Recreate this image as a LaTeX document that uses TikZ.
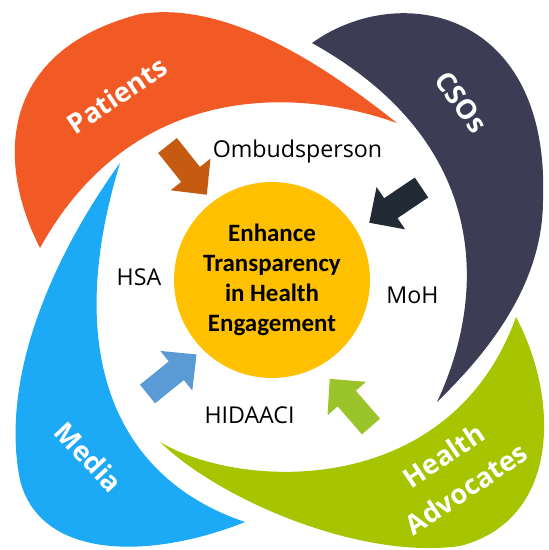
\documentclass[tikz,border=0pt]{standalone}
\usepackage{fontspec}
\setmainfont{Open Sans}
\newfontfamily\goalfont{Carlito}
\usepackage{tikz}

\definecolor{patientsorange}{HTML}{F15A24}
\definecolor{csonavy}{HTML}{3C3C54}
\definecolor{advocategreen}{HTML}{A6C400}
\definecolor{mediablue}{HTML}{1CA9F6}
\definecolor{goalyellow}{HTML}{FFC000}
\definecolor{arrowbrown}{HTML}{C55A11}
\definecolor{arrownavy}{HTML}{222A35}
\definecolor{arrowblue}{HTML}{5B9BD5}
\definecolor{arrowgreen}{HTML}{9BC32A}

\begin{document}
\begin{tikzpicture}[x=0.02cm, y=-0.02cm,
    petal label/.style={text=white, font=\bfseries\fontsize{15.5}{22.7}\selectfont, align=center},
    actor/.style={anchor=base, font=\fontsize{13.2}{15}\selectfont},
    goal/.style={circle, fill=goalyellow, minimum size=3.92cm, inner sep=0pt, align=center,
      font=\goalfont\bfseries\fontsize{14.2}{17}\selectfont}]
  \useasboundingbox (0,0) rectangle (548,550);

  % petals
  \fill[patientsorange] (40,248) .. controls (-5,160) and (0,50) .. (140,14)
    .. controls (230,0) and (330,70) .. (397,123)
    .. controls (290,85) and (130,85) .. (40,248);
  \fill[csonavy] (312,43) .. controls (400,-20) and (550,10) .. (543,200)
    .. controls (543,290) and (480,360) .. (437,402)
    .. controls (485,300) and (495,145) .. (312,43);
  \fill[advocategreen] (516,317) .. controls (560,400) and (560,520) .. (460,546)
    .. controls (360,560) and (220,500) .. (160,442)
    .. controls (240,490) and (450,500) .. (516,317);
  \fill[mediablue] (120,163) .. controls (50,260) and (0,380) .. (20,480)
    .. controls (40,560) and (150,560) .. (245,522)
    .. controls (120,480) and (60,360) .. (120,163);

  \node[petal label, rotate=34] (patients) at (117,95) {Patients};
  \node[petal label, rotate=-54] (csos) at (461,102) {CSOs};
  \node[petal label, rotate=-47] (media) at (89,457) {Media};
  \node[petal label, rotate=34] (advocates) at (455,472) {Health\\Advocates};

  % goal in the middle
  \node[goal] (goal) at (272,280) {Enhance\\Transparency\\in Health\\Engagement};

  \node[actor] (ombuds) at (297.5,158) {Ombudsperson};
  \node[actor] (hsa) at (139,285) {HSA};
  \node[actor] (moh) at (412.5,303) {MoH};
  \node[actor] (hidaaci) at (249.5,423) {HIDAACI};

  % block arrows towards the goal
  \foreach \tx/\ty/\ang/\col in {167.5/145.5/-51.4/arrowbrown, 421.5/187.5/214/arrownavy,
      147.5/394/38.9/arrowblue, 371/426.5/130.9/arrowgreen}
    \fill[\col, shift={(\tx,\ty)}, rotate=\ang]
      (0,-12) -- (37,-12) -- (37,-25.5) -- (63,0) -- (37,25.5) -- (37,12) -- (0,12) -- cycle;
\end{tikzpicture}
\end{document}
